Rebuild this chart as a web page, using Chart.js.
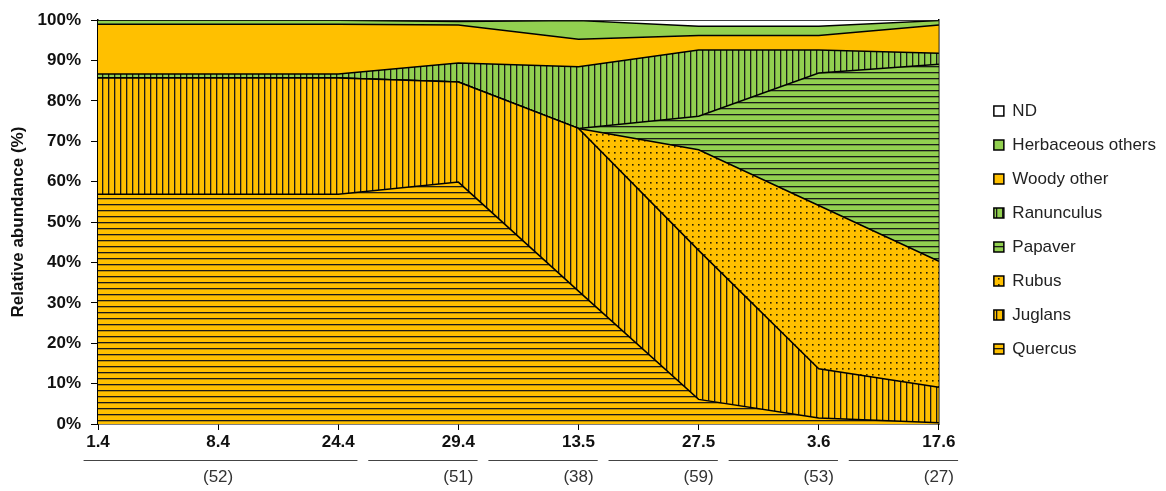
<!DOCTYPE html>
<html>
<head>
<meta charset="utf-8">
<script src="https://cdn.jsdelivr.net/npm/chart.js@4.4.1/dist/chart.umd.min.js"></script>
<style>
    html, body { margin: 0; padding: 0; background: #fff; }
    #grafico-container { width: 1166px; height: 491px; }
</style>
</head>
<body>
<div id="grafico-container"><canvas id="grafico"></canvas></div>
<script>
// Dados do gráfico (abundância relativa, %)
const categorias = ['1.4', '8.4', '24.4', '29.4', '13.5', '27.5', '3.6', '17.6'];
const quercus     = [56.9, 56.9, 56.9, 59.9, 32.9,  6.1,  1.5,  0.3];
const juglans     = [28.8, 28.8, 28.8, 24.8, 40.3, 36.9, 12.2,  8.8];
const rubus       = [ 0.0,  0.0,  0.0,  0.0,  0.0, 24.9, 40.4, 31.2];
const papaver     = [ 0.0,  0.0,  0.0,  0.0,  0.0,  8.3, 32.8, 48.8];
const ranunculus  = [ 1.0,  1.0,  1.0,  4.7, 15.3, 16.4,  5.7,  2.7];
const woodyOther  = [12.3, 12.3, 12.3,  9.4,  6.8,  3.6,  3.6,  7.0];
const herbOthers  = [ 1.0,  1.0,  1.0,  0.9,  4.6,  2.3,  2.3,  1.1];
const nd          = [ 0.0,  0.0,  0.0,  0.3,  0.1,  1.5,  1.5,  0.1];

// Grupos abaixo do eixo x (primeira e última categoria de cada grupo)
const gruposRotulos = ['(52)', '(51)', '(38)', '(59)', '(53)', '(27)'];
const gruposInicio  = [0, 3, 4, 5, 6, 7];
const gruposFim     = [2, 3, 4, 5, 6, 7];

const LARANJA = '#FFC000';
const VERDE = '#92D050';
const FONTE = "'Liberation Sans', Arial, sans-serif";

// Função para criar as texturas (listras e pontos)
function criarPadrao(cor, tipo) {
    const tile = document.createElement('canvas');
    tile.width = 6;
    tile.height = 6;
    const c = tile.getContext('2d');
    c.fillStyle = cor;
    c.fillRect(0, 0, 6, 6);
    c.fillStyle = '#1a1a1a';
    if (tipo === 'horizontal') c.fillRect(0, 0, 6, 1.3);
    if (tipo === 'vertical') c.fillRect(0, 0, 1.3, 6);
    if (tipo === 'pontos') {
        c.fillStyle = '#2a2200';
        c.fillRect(2, 2, 1.6, 1.6);
    }
    return c.createPattern(tile, 'repeat');
}

function serie(label, data, fundo, indice) {
    return {
        label: label,
        data: data,
        backgroundColor: fundo,
        borderColor: '#000',
        borderWidth: 1.5,
        fill: indice === 0 ? 'origin' : '-1',
        pointRadius: 0,
        tension: 0
    };
}

// Plugin para desenhar os rótulos dos grupos (n) abaixo do eixo
const gruposPlugin = {
    id: 'grupos',
    afterDraw(chart) {
        const ctx = chart.ctx;
        const x = chart.scales.x;
        const passo = x.getPixelForValue(1) - x.getPixelForValue(0);
        ctx.save();
        ctx.strokeStyle = '#444';
        ctx.lineWidth = 1;
        ctx.fillStyle = '#333';
        ctx.font = '17px ' + FONTE;
        ctx.textAlign = 'center';
        ctx.textBaseline = 'middle';
        gruposRotulos.forEach((rotulo, i) => {
            const ini = gruposInicio[i];
            const fim = gruposFim[i];
            const esq = ini === 0 ? x.getPixelForValue(0) - 0.12 * passo : x.getPixelForValue(ini - 1) + 0.25 * passo;
            const dir = x.getPixelForValue(fim) + 0.16 * passo;
            ctx.beginPath();
            ctx.moveTo(esq, 460.5);
            ctx.lineTo(dir, 460.5);
            ctx.stroke();
            ctx.fillText(rotulo, x.getPixelForValue((ini + fim) / 2), 477);
        });
        ctx.restore();
    }
};

const canvas = document.getElementById('grafico');

new Chart(canvas, {
    type: 'line',
    data: {
        labels: categorias,
        datasets: [
            serie('Quercus', quercus, criarPadrao(LARANJA, 'horizontal'), 0),
            serie('Juglans', juglans, criarPadrao(LARANJA, 'vertical'), 1),
            serie('Rubus', rubus, criarPadrao(LARANJA, 'pontos'), 2),
            serie('Papaver', papaver, criarPadrao(VERDE, 'horizontal'), 3),
            serie('Ranunculus', ranunculus, criarPadrao(VERDE, 'vertical'), 4),
            serie('Woody other', woodyOther, LARANJA, 5),
            serie('Herbaceous others', herbOthers, VERDE, 6),
            serie('ND', nd, '#FFFFFF', 7)
        ]
    },
    options: {
        responsive: true,
        maintainAspectRatio: false,
        animation: false,
        layout: {
            padding: { top: 17, bottom: 0, left: 0, right: 0 }
        },
        scales: {
            x: {
                stacked: true,
                offset: false,
                grid: { drawOnChartArea: false, tickLength: 6, color: '#000' },
                border: { color: '#000', width: 1.5 },
                ticks: {
                    color: '#111',
                    padding: 2,
                    maxRotation: 0,
                    font: { family: FONTE, size: 17, weight: 'bold' }
                },
                afterFit(scale) { scale.height = 67; }
            },
            y: {
                stacked: true,
                min: 0,
                max: 100,
                grid: { drawOnChartArea: false, tickLength: 7, color: '#000' },
                border: { color: '#000', width: 1.5 },
                ticks: {
                    stepSize: 10,
                    color: '#111',
                    padding: 10,
                    font: { family: FONTE, size: 17, weight: 'bold' },
                    callback: v => v + '%'
                },
                title: {
                    display: true,
                    text: 'Relative abundance (%)',
                    color: '#111',
                    padding: { top: 8, bottom: 0 },
                    font: { family: FONTE, size: 17, weight: 'bold' }
                },
                afterFit(scale) { scale.width = 98; }
            },
            direita: {
                position: 'right',
                min: 0,
                max: 100,
                grid: { drawOnChartArea: false, drawTicks: false },
                border: { color: '#000', width: 1.5 },
                ticks: { display: false },
                afterFit(scale) { scale.width = 38; }
            }
        },
        plugins: {
            legend: {
                position: 'right',
                align: 'start',
                reverse: true,
                title: {
                    display: true,
                    text: '',
                    font: { size: 10 },
                    padding: { top: 56.5, bottom: 0 }
                },
                labels: {
                    boxWidth: 10,
                    boxHeight: 10,
                    padding: 17,
                    color: '#222',
                    font: { family: FONTE, size: 17 }
                }
            },
            tooltip: { enabled: false }
        }
    },
    plugins: [gruposPlugin]
});
</script>
</body>
</html>
